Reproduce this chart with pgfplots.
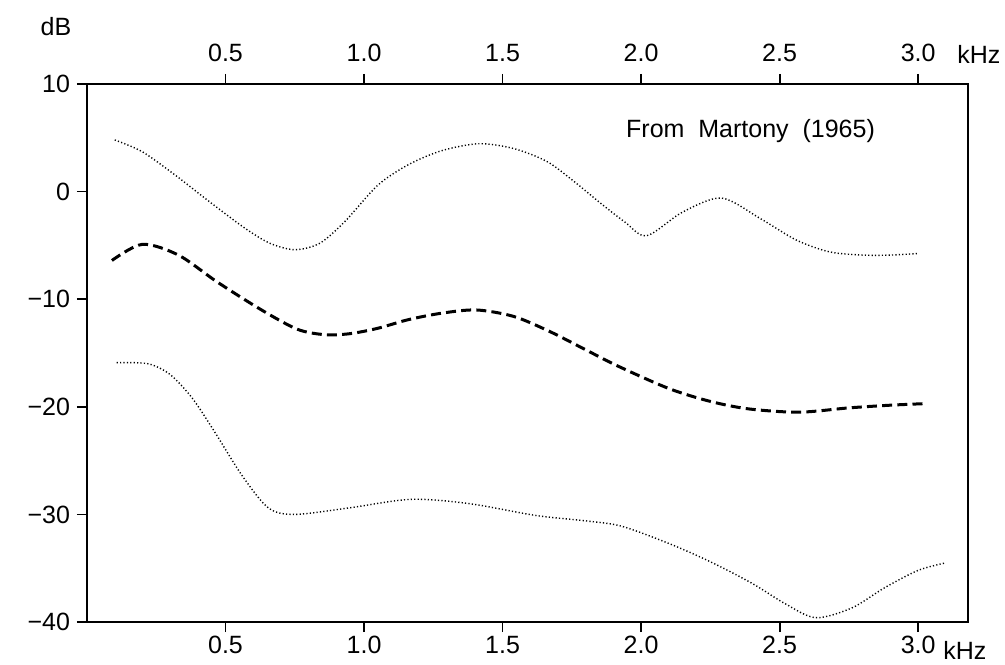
\documentclass[border=0pt]{standalone}
\usepackage{fontspec}
\setmainfont{Liberation Sans}
\usepackage{pgfplots}
\pgfplotsset{compat=1.18}
\begin{document}
\begin{tikzpicture}
\useasboundingbox (-43.5pt,-21pt) rectangle (459pt,311pt);
\pgfplotsset{
  common/.style={
    width=440.5pt, height=269pt, scale only axis,
    xmin=0, xmax=3.18, ymin=-40, ymax=10,
    axis line style={line width=1.1pt},
    tick style={line width=0.9pt, black},
    major tick length=5pt,
    tick align=outside,
    every tick label/.append style={font=\fontsize{12.5}{15}\selectfont},
    /pgf/number format/assume math mode=true,
  }
}
\begin{axis}[common,
  xtick={0.5,1.0,1.5,2.0,2.5,3.0},
  xticklabels={0.5,1.0,1.5,2.0,2.5,3.0},
  xtick pos=bottom, xticklabel pos=lower,
  xticklabel style={yshift=1.5pt},
  ytick={-40,-30,-20,-10,0,10},
  yticklabels={−40,−30,−20,−10,0,10},
  ytick pos=left,
  clip=false,
]
\addplot[black, line width=0.7pt, dash pattern=on 0.6pt off 1.1pt, smooth, tension=0.5] coordinates {
(0.10,4.8) (0.20,3.7) (0.32,1.5) (0.44,-0.9) (0.57,-3.4) (0.66,-4.8) (0.75,-5.4)
(0.84,-4.8) (0.93,-2.8) (1.05,0.6) (1.16,2.5) (1.28,3.8) (1.415,4.45) (1.54,4.0)
(1.66,2.8) (1.76,0.9) (1.85,-1.0) (1.94,-2.8) (2.02,-4.1) (2.15,-1.9) (2.29,-0.6) (2.43,-2.5)
(2.56,-4.5) (2.68,-5.6) (2.80,-5.9) (2.90,-5.9) (3.00,-5.75)
};
\addplot[black, line width=1.5pt, dash pattern=on 5pt off 2.6pt, smooth, tension=0.5] coordinates {
(0.09,-6.4) (0.20,-4.9) (0.33,-5.9) (0.47,-8.4) (0.63,-11.0) (0.76,-12.8) (0.86,-13.3)
(0.95,-13.2) (1.05,-12.7) (1.16,-11.9) (1.28,-11.3) (1.405,-11.0) (1.54,-11.6)
(1.67,-13.0) (1.80,-14.7) (1.915,-16.2) (2.10,-18.3) (2.25,-19.5) (2.39,-20.2)
(2.57,-20.5) (2.75,-20.1) (2.90,-19.85) (3.03,-19.7)
};
\addplot[black, line width=0.7pt, dash pattern=on 0.6pt off 1.1pt, smooth, tension=0.5] coordinates {
(0.107,-15.9) (0.22,-16.0) (0.30,-17.0) (0.38,-19.2) (0.46,-22.3) (0.56,-26.4)
(0.655,-29.4) (0.75,-30.0) (0.945,-29.4) (1.17,-28.6) (1.38,-29.0) (1.62,-30.1)
(1.80,-30.6) (1.93,-31.1) (2.10,-32.7) (2.25,-34.4) (2.40,-36.4) (2.52,-38.3)
(2.63,-39.6) (2.76,-38.7) (2.88,-36.8) (3.00,-35.2) (3.10,-34.5)
};
\node[font=\fontsize{12.5}{15}\selectfont] at (axis cs:2.395,5.6) {From\ \ Martony\ \ (1965)};
\end{axis}
\begin{axis}[common,
  xtick={0.5,1.0,1.5,2.0,2.5,3.0},
  xticklabels={0.5,1.0,1.5,2.0,2.5,3.0},
  xtick pos=top, xticklabel pos=upper,
  xticklabel style={yshift=2.5pt},
  ytick=\empty, axis y line=none,
  axis x line*=top,
]
\end{axis}
\node[anchor=west, inner sep=0pt, font=\fontsize{12.5}{15}\selectfont] at (435pt,284pt) {kHz};
\node[anchor=west, inner sep=0pt, font=\fontsize{12.5}{15}\selectfont] at (428pt,-14pt) {kHz};
\node[font=\fontsize{12.5}{15}\selectfont] at (-15.5pt,297.5pt) {dB};
\end{tikzpicture}
\end{document}
